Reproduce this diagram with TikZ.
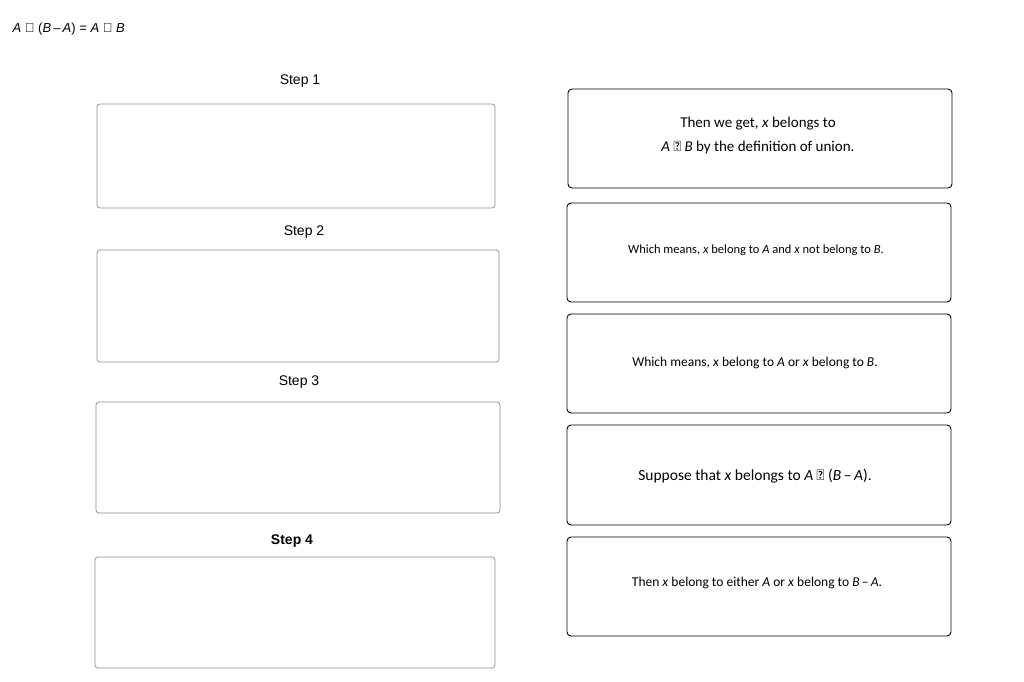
\documentclass[tikz,border=0pt]{standalone}
\usepackage{fontspec}
\setmainfont{Liberation Sans}
\newfontfamily\crlt{Carlito}
\begin{document}
\begin{tikzpicture}[x=1pt,y=-1pt,
 lbox/.style={draw=black!45,rounded corners=3pt,line width=0.7pt},
 rbox/.style={draw=black,rounded corners=4pt,line width=0.9pt},
 steplbl/.style={font=\fontsize{14}{16}\selectfont},
 card/.style={align=center}]
\useasboundingbox (0,0) rectangle (1024,681);
\node[anchor=west,font=\fontsize{13}{15}\selectfont] (t) at (9,29) {\textit{A} ∪ (\textit{B}\,–\,\textit{A}) = \textit{A} ∪ \textit{B}};
\node[steplbl] (s1) at (300,81) {Step 1};
\node[steplbl] (s2) at (304,232) {Step 2};
\node[steplbl] (s3) at (299,382) {Step 3};
\node[font=\bfseries\fontsize{14}{16}\selectfont] (s4) at (292,541) {Step 4};
\draw[lbox] (97,104) rectangle (495,208);
\draw[lbox] (97,250) rectangle (499,362);
\draw[lbox] (96,402) rectangle (500,513);
\draw[lbox] (95,557) rectangle (495,668);
\draw[rbox] (568,89) rectangle (952,188);
\draw[rbox] (567,203) rectangle (951,302);
\draw[rbox] (567,314) rectangle (951,413);
\draw[rbox] (567,425) rectangle (951,525);
\draw[rbox] (567,537) rectangle (951,636);
\node[card,font=\crlt\fontsize{15}{24}\selectfont] (c1) at (758,135) {Then we get, \textit{x} belongs to\\\textit{A} ∪ \textit{B} by the definition of union.};
\node[card,font=\crlt\fontsize{12.5}{15}\selectfont] (c2) at (756,250) {Which means, \textit{x} belong to \textit{A} and \textit{x} not belong to \textit{B}.};
\node[card,font=\crlt\fontsize{13.5}{16}\selectfont] (c3) at (755,363) {Which means, \textit{x} belong to \textit{A} or \textit{x} belong to \textit{B}.};
\node[card,font=\crlt\fontsize{15.5}{18}\selectfont] (c4) at (755,476) {Suppose that \textit{x} belongs to \textit{A} ∪ (\textit{B}\,–\,\textit{A}).};
\node[card,font=\crlt\fontsize{13.5}{16}\selectfont] (c5) at (757,583) {Then \textit{x} belong to either \textit{A} or \textit{x} belong to \textit{B}\,–\,\textit{A}.};
\end{tikzpicture}
\end{document}
